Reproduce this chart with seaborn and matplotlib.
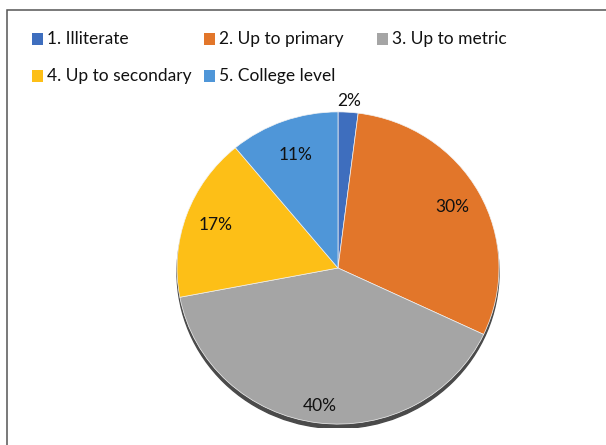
import matplotlib
matplotlib.use("Agg")
import matplotlib.pyplot as plt
from matplotlib.patches import Rectangle, Ellipse
import seaborn as sns
import numpy as np

# Education level distribution (percent of respondents)
categories = ["1. Illiterate", "2. Up to primary", "3. Up to metric",
              "4. Up to secondary", "5. College level"]
shares = [2, 30, 40, 17, 11]
colors = ["#3E6EBE", "#E2762A", "#A5A5A5", "#FDBF17", "#4F96D8"]

sns.set_theme(style="white")
plt.rcParams["font.family"] = ["Lato", "DejaVu Sans"]

W, H = 606, 445
fig = plt.figure(figsize=(W / 100, H / 100), dpi=100)
fig.patch.set_facecolor("white")

# outer frame (runs off the right and bottom edges)
fig.patches.append(Rectangle((7 / W, -0.1), 1.2, (H - 10) / H + 0.1,
                             transform=fig.transFigure, fill=False,
                             edgecolor="#555555", linewidth=1.1))

# pie axes: centre at (338, 268) px, slightly wider than tall
cx, cy, hw, hh = 338, 268, 165, 160
ax = fig.add_axes([(cx - hw) / W, (H - cy - hh) / H, 2 * hw / W, 2 * hh / H])

# soft rim under the pie
ax.add_patch(Ellipse((0, -0.028), 2.0, 2.0, color="#4a4a4a", zorder=0))

wedges, _ = ax.pie(shares, colors=colors, startangle=90, counterclock=False,
                   radius=1.0, wedgeprops=dict(linewidth=0.5, edgecolor="#f4f4f4"))
for w in wedges:
    w.set_zorder(2)

ax.set_xlim(-1.025, 1.025)
ax.set_ylim(-1.025, 1.025)
ax.set_aspect("auto")
ax.axis("off")

# percentage labels placed along each wedge's mid-angle
label_dist = [1.07, 0.81, 0.89, 0.81, 0.77]
for w, val, d in zip(wedges, shares, label_dist):
    mid = np.deg2rad((w.theta1 + w.theta2) / 2)
    ax.text(d * np.cos(mid), d * np.sin(mid), f"{val}%", ha="center",
            va="center", fontsize=12.5, color="#111111", zorder=5)

# legend in a 3-column grid, filled row by row
col_x = [32, 204, 377]
row_y = [39, 76]
for i, (lab, c) in enumerate(zip(categories, colors)):
    r, k = divmod(i, 3)
    x, y = col_x[k], row_y[r]
    fig.patches.append(Rectangle((x / W, (H - y - 5.5) / H), 11 / W, 11 / H,
                                 transform=fig.transFigure, facecolor=c,
                                 edgecolor="none"))
    fig.text((x + 15) / W, (H - y) / H, lab, ha="left", va="center",
             fontsize=12.5, color="#111111")

fig.savefig("out.png", dpi=100, facecolor="white")
